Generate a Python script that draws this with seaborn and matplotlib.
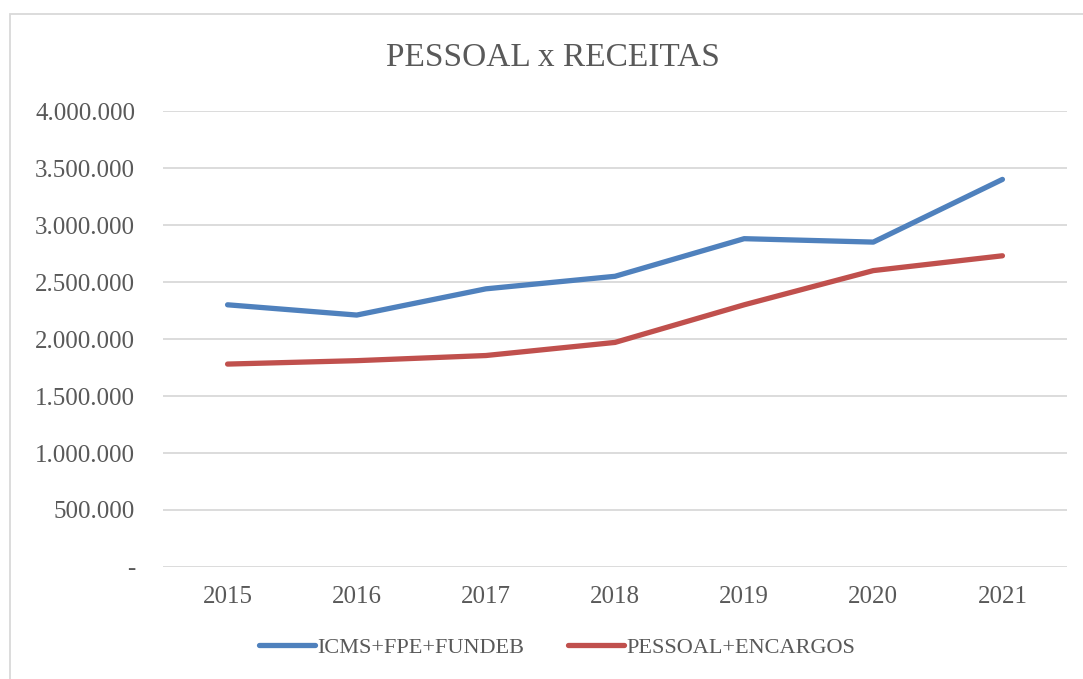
import matplotlib
matplotlib.use("Agg")
import matplotlib.pyplot as plt
from matplotlib.patches import Rectangle
from matplotlib.ticker import FuncFormatter
import seaborn as sns
import pandas as pd

years = ["2015", "2016", "2017", "2018", "2019", "2020", "2021"]
receitas = [2300000, 2210000, 2440000, 2550000, 2880000, 2850000, 3400000]
pessoal = [1780000, 1810000, 1855000, 1970000, 2300000, 2600000, 2730000]
series_names = ["ICMS+FPE+FUNDEB", "PESSOAL+ENCARGOS"]
colors = ["#4f81bd", "#c0504d"]

df = pd.DataFrame({
    "ano": years * 2,
    "valor": receitas + pessoal,
    "serie": [series_names[0]] * len(years) + [series_names[1]] * len(years),
})

sns.set_style("white")
plt.rcParams["font.family"] = ["Liberation Serif", "DejaVu Serif"]
text_color = "#595959"

fig = plt.figure(figsize=(10.83, 6.79), dpi=100)
ax = fig.add_axes([163 / 1083, 1 - 567 / 679, (1067 - 163) / 1083, (567 - 111) / 679])

sns.lineplot(data=df, x="ano", y="valor", hue="serie", palette=colors,
             linewidth=3.8, sort=False, ax=ax, legend=True)
for line in ax.get_lines():
    line.set_solid_capstyle("round")

ax.set_xlim(-0.5, len(years) - 0.5)
ax.set_ylim(0, 4000000)
ax.set_yticks(range(0, 4000001, 500000))
ax.yaxis.set_major_formatter(FuncFormatter(
    lambda v, p: "-" if v == 0 else f"{int(v):,}".replace(",", ".")))
ax.grid(axis="y", color="#d9d9d9", linewidth=1.3)
ax.set_axisbelow(True)
for s in ax.spines.values():
    s.set_visible(False)
ax.tick_params(axis="y", length=0, pad=20, labelsize=18, labelcolor=text_color)
ax.tick_params(axis="x", length=0, pad=14, labelsize=18, labelcolor=text_color)
ax.set_xlabel("")
ax.set_ylabel("")

fig.text(553 / 1083, 1 - 58 / 679, "PESSOAL x RECEITAS", ha="center", va="center",
         fontsize=24, color=text_color)

handles, labels = ax.get_legend_handles_labels()
ax.legend_.remove()
leg = fig.legend(handles, labels, loc="center", bbox_to_anchor=(557 / 1083, 0.046),
                 ncol=2, frameon=False, fontsize=16, handlelength=2.5,
                 handletextpad=0.1, columnspacing=2.0, labelcolor=text_color)
for h in leg.get_lines():
    h.set_linewidth(3.8)
    h.set_solid_capstyle("round")

fig.patches.append(Rectangle((10 / 1083, -0.1), 1.1, 1.1 - 14 / 679,
                             transform=fig.transFigure, fill=False,
                             edgecolor="#d9d9d9", linewidth=1.3))

fig.savefig("out.png", dpi=100)
